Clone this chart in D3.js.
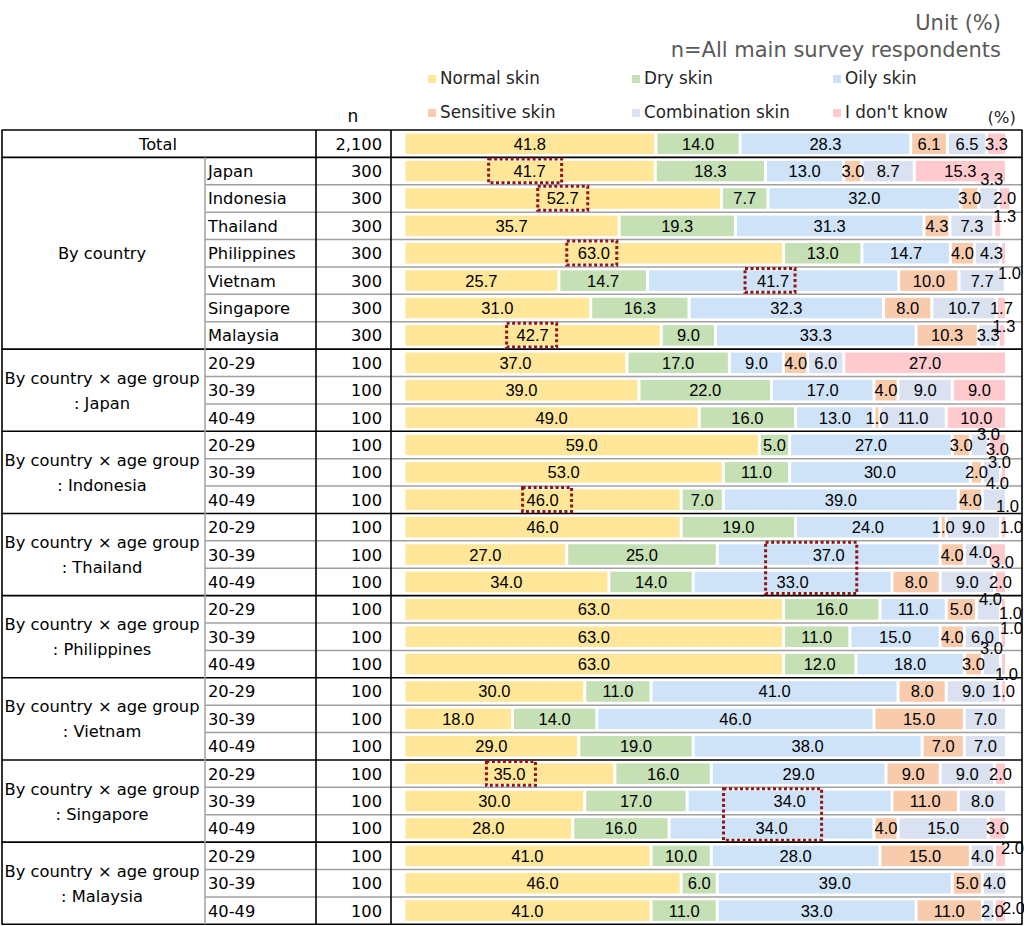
<!DOCTYPE html>
<html>
<head>
<meta charset="utf-8">
<script src="https://cdn.jsdelivr.net/npm/d3@7.9.0/dist/d3.min.js"></script>
<style>
  body { margin: 0; background: #fff; }
  svg { display: block; }
</style>
</head>
<body>
<svg id="chart" width="1024" height="926"></svg>
<script>
// series + colours
const seriesNames = ['Normal skin', 'Dry skin', 'Oily skin', 'Sensitive skin', 'Combination skin', "I don't know"];
const seriesColors = ['#FFE699', '#C5E0B4', '#CFE3F8', '#F8CBAD', '#DAE1F0', '#FFCACD'];

// left-hand table
const groupNames = [
  ['Total'], ['By country'],
  ['By country × age group', ': Japan'], ['By country × age group', ': Indonesia'],
  ['By country × age group', ': Thailand'], ['By country × age group', ': Philippines'],
  ['By country × age group', ': Vietnam'], ['By country × age group', ': Singapore'],
  ['By country × age group', ': Malaysia']
];
const groupSizes = [1, 7, 3, 3, 3, 3, 3, 3, 3];
const rowLabels = ['', 'Japan', 'Indonesia', 'Thailand', 'Philippines', 'Vietnam', 'Singapore', 'Malaysia',
  '20-29', '30-39', '40-49', '20-29', '30-39', '40-49', '20-29', '30-39', '40-49',
  '20-29', '30-39', '40-49', '20-29', '30-39', '40-49', '20-29', '30-39', '40-49',
  '20-29', '30-39', '40-49'];
const nValues = ['2,100', '300', '300', '300', '300', '300', '300', '300',
  '100', '100', '100', '100', '100', '100', '100', '100', '100', '100', '100', '100',
  '100', '100', '100', '100', '100', '100', '100', '100', '100'];

// values (%) per row
const normal      = [41.8, 41.7, 52.7, 35.7, 63.0, 25.7, 31.0, 42.7, 37, 39, 49, 59, 53, 46, 46, 27, 34, 63, 63, 63, 30, 18, 29, 35, 30, 28, 41, 46, 41];
const dry         = [14.0, 18.3, 7.7, 19.3, 13.0, 14.7, 16.3, 9.0, 17, 22, 16, 5, 11, 7, 19, 25, 14, 16, 11, 12, 11, 14, 19, 16, 17, 16, 10, 6, 11];
const oily        = [28.3, 13.0, 32.0, 31.3, 14.7, 41.7, 32.3, 33.3, 9, 17, 13, 27, 30, 39, 24, 37, 33, 11, 15, 18, 41, 46, 38, 29, 34, 34, 28, 39, 33];
const sensitive   = [6.1, 3.0, 3.0, 4.3, 4.0, 10.0, 8.0, 10.3, 4, 4, 1, 3, 2, 4, 1, 4, 8, 5, 4, 3, 8, 15, 7, 9, 11, 4, 15, 5, 11];
const combination = [6.5, 8.7, 3.3, 7.3, 4.3, 7.7, 10.7, 3.3, 6, 9, 11, 3, 3, 4, 9, 4, 9, 4, 6, 3, 9, 7, 7, 9, 8, 15, 4, 4, 2];
const dontKnow    = [3.3, 15.3, 2.0, 1.3, 1.0, 0, 1.7, 1.3, 27, 9, 10, 3, 1, 0, 1, 3, 2, 1, 1, 1, 1, 0, 0, 2, 0, 3, 2, 0, 2];

// hand-moved labels for the thin segments: "row-series": [dx, dy]
const labelNudge = {
  '2-4': [3, -19], '3-5': [7, -10], '4-4': [4, 0], '4-5': [6, 20], '7-5': [2, -9],
  '11-4': [9, -11], '11-5': [0, 4], '12-4': [8, -10], '12-5': [4, 34], '13-4': [3, -17],
  '14-5': [8, 0], '15-4': [4, -3], '15-5': [5, 7], '17-4': [2, -10], '17-5': [7, 4],
  '18-5': [8, -9], '19-4': [0, -16], '19-5': [3, 10], '26-5': [12, -8], '28-4': [4, 0], '28-5': [13, -3]
};

// dotted highlight boxes: [first row, rows, series, pad left, pad right]
const boxes = [
  [1, 1, 0, 41, 32], [2, 1, 0, 25, 25], [4, 1, 0, 27, 23], [5, 1, 2, 28, 22], [7, 1, 0, 26, 24],
  [13, 1, 0, 20, 29], [15, 2, 2, 27, 28], [23, 1, 0, 23, 26], [24, 2, 2, 48, 32]
];

const svg = d3.select('#chart');
const font = "'DejaVu Sans', Verdana, sans-serif";
const numFont = "'Liberation Sans', Arial, sans-serif";

const keys = d3.range(seriesNames.length);
const cols = [normal, dry, oily, sensitive, combination, dontKnow];
const table = rowLabels.map((_, i) => {
  const r = { row: i };
  keys.forEach(k => r[k] = cols[k][i]);
  return r;
});
const stacked = d3.stack().keys(keys)(table);

const x = d3.scaleLinear().domain([0, 100]).range([404, 1006.5]);
const y = d3.scaleBand().domain(d3.range(table.length)).range([130, 924.3]);
const rowH = y.bandwidth();
const barH = rowH * 0.75;

// header texts
svg.append('text').attr('x', 1001).attr('y', 30).attr('text-anchor', 'end')
  .attr('font-family', font).attr('font-size', 21).attr('fill', '#595959').text('Unit (%)');
svg.append('text').attr('x', 1001).attr('y', 57).attr('text-anchor', 'end')
  .attr('font-family', font).attr('font-size', 21).attr('fill', '#595959').text('n=All main survey respondents');

// legend
const legend = svg.append('g');
seriesNames.forEach((name, i) => {
  const lx = [428, 632, 833][i % 3];
  const ly = i < 3 ? 84 : 118;
  legend.append('rect').attr('x', lx).attr('y', ly - 9).attr('width', 8).attr('height', 8)
    .attr('fill', seriesColors[i]);
  legend.append('text').attr('x', lx + 12).attr('y', ly)
    .attr('font-family', font).attr('font-size', 16.8).attr('fill', '#262626').text(name);
});
svg.append('text').attr('x', 1016).attr('y', 123).attr('text-anchor', 'end')
  .attr('font-family', font).attr('font-size', 16.5).attr('fill', '#262626').text('(%)');
svg.append('text').attr('x', 353).attr('y', 122).attr('text-anchor', 'middle')
  .attr('font-family', font).attr('font-size', 17).attr('fill', '#000').text('n');

// bars
svg.append('g').selectAll('g').data(stacked).join('g')
  .attr('fill', d => seriesColors[d.key])
  .selectAll('rect').data(d => d).join('rect')
  .attr('x', d => x(d[0]) + 1.5)
  .attr('y', d => y(d.data.row) + (rowH - barH) / 2)
  .attr('width', d => Math.max(0, x(d[1]) - x(d[0]) - 3))
  .attr('height', barH);

// grid lines
const grid = svg.append('g');
let start = 0;
const groupStarts = [];
groupSizes.forEach(s => { groupStarts.push(start); start += s; });
d3.range(table.length).forEach(i => {
  if (groupStarts.includes(i)) return;
  grid.append('line').attr('x1', 205).attr('x2', 1022).attr('y1', y(i)).attr('y2', y(i))
    .attr('stroke', '#a0a0a0').attr('stroke-width', 1.5);
});
groupStarts.concat([table.length]).forEach(i => {
  const yy = i < table.length ? y(i) : y(i - 1) + rowH;
  grid.append('line').attr('x1', 1.5).attr('x2', 1022.5).attr('y1', yy).attr('y2', yy)
    .attr('stroke', '#000').attr('stroke-width', 1.6);
});
const tableTop = y(0), tableBottom = y(table.length - 1) + rowH;
grid.append('line').attr('x1', 205).attr('x2', 205).attr('y1', y(1)).attr('y2', tableBottom)
  .attr('stroke', '#a0a0a0').attr('stroke-width', 1.5);
[2, 316, 391, 1022].forEach(vx => {
  grid.append('line').attr('x1', vx).attr('x2', vx).attr('y1', tableTop).attr('y2', tableBottom)
    .attr('stroke', '#000').attr('stroke-width', 1.6);
});

// left table text
groupNames.forEach((lines, g) => {
  const r0 = groupStarts[g], r1 = r0 + groupSizes[g];
  const cy = (y(r0) + y(r1 - 1) + rowH) / 2;
  const cx = g === 0 ? 158 : 102;
  lines.forEach((t, li) => {
    const off = lines.length === 1 ? 6 : (li === 0 ? -6.5 : 18.5);
    svg.append('text').attr('x', cx).attr('y', cy + off).attr('text-anchor', 'middle')
      .attr('font-family', font).attr('font-size', 16.3).attr('fill', '#000').text(t);
  });
});
rowLabels.forEach((t, i) => {
  if (!t) return;
  svg.append('text').attr('x', 208).attr('y', y(i) + rowH / 2 + 6)
    .attr('font-family', font).attr('font-size', 16.3).attr('fill', '#000').text(t);
});
nValues.forEach((t, i) => {
  svg.append('text').attr('x', 382).attr('y', y(i) + rowH / 2 + 6).attr('text-anchor', 'end')
    .attr('font-family', font).attr('font-size', 16.3).attr('fill', '#000').text(t);
});

// value labels
const fmt = d3.format('.1f');
const labels = svg.append('g').attr('font-family', numFont).attr('font-size', 16.5).attr('fill', '#000')
  .attr('text-anchor', 'middle');
stacked.forEach(s => {
  s.forEach(d => {
    const v = d[1] - d[0];
    if (v <= 0) return;
    const nd = labelNudge[`${d.data.row}-${s.key}`] || [0, 0];
    labels.append('text')
      .attr('x', (x(d[0]) + x(d[1])) / 2 + nd[0])
      .attr('y', y(d.data.row) + rowH / 2 + 6 + nd[1])
      .text(fmt(v));
  });
});

// dotted highlight boxes
boxes.forEach(([r, n, k, pl, pr]) => {
  const centers = d3.range(r, r + n).map(i => {
    const d = stacked[k][i];
    return (x(d[0]) + x(d[1])) / 2;
  });
  const x0 = d3.min(centers) - pl, x1 = d3.max(centers) + pr;
  const y0 = y(r) + 1.5, y1 = y(r + n - 1) + rowH - 2;
  svg.append('rect').attr('x', x0).attr('y', y0).attr('width', x1 - x0).attr('height', y1 - y0)
    .attr('fill', 'none').attr('stroke', '#8f1616').attr('stroke-width', 3)
    .attr('stroke-dasharray', '3 2.5');
});
</script>
</body>
</html>
